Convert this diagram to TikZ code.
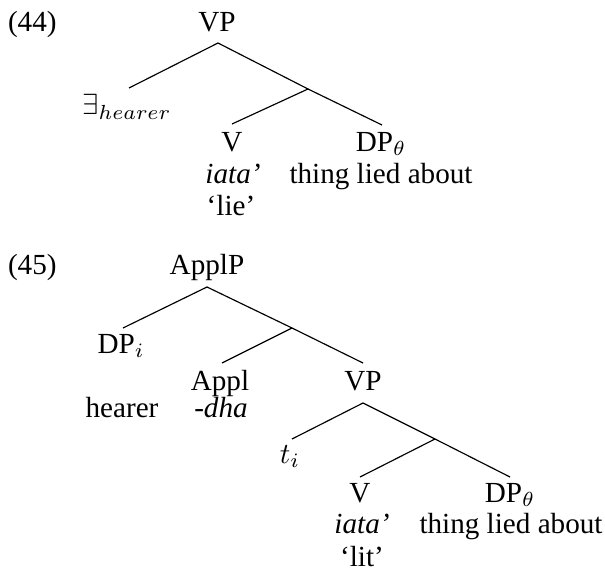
\documentclass[tikz,border=0pt]{standalone}
\usepackage{fontspec}
\setmainfont{Liberation Serif}
\begin{document}
\begin{tikzpicture}[x=0.343pt,y=-0.343pt,
  lbl/.style={anchor=base,inner sep=0pt,outer sep=0pt},
  num/.style={anchor=base west,inner sep=0pt,outer sep=0pt},
  branch/.style={line width=0.4pt,black}]
\useasboundingbox (0,0) rectangle (605,576);
% ---------- (44) ----------
\node[num] (n44) at (8,32) {(44)};
\node[lbl] (vpA) at (217,32) {VP};
\node[lbl] (exA) at (127,115) {$\exists_{hearer}$};
\node[lbl] (vA) at (232,151) {V};
\node[lbl] (dpA) at (381,151) {DP$_\theta$};
\node[lbl] (iataA) at (233,184) {\textit{iata'}};
\node[lbl] (thingA) at (381,184) {thing lied about};
\node[lbl] (lieA) at (231,215) {`lie'};
\coordinate (vpAtop) at (218,43);
\coordinate (exAend) at (129,88);
\coordinate (jA) at (308,89);
\coordinate (vAend) at (232,124);
\coordinate (dpAend) at (382,125);
\draw[branch] (vpAtop) -- (exAend);
\draw[branch] (vpAtop) -- (jA);
\draw[branch] (jA) -- (vAend);
\draw[branch] (jA) -- (dpAend);
% ---------- (45) ----------
\node[num] (n45) at (8,274) {(45)};
\node[lbl] (applp) at (207,274) {ApplP};
\node[lbl] (dpi) at (121,353) {DP$_i$};
\node[lbl] (appl) at (220,390) {Appl};
\node[lbl] (hearer) at (122,417) {hearer};
\node[lbl] (dha) at (221,417) {\textit{-dha}};
\node[lbl] (vpB) at (363,390) {VP};
\node[lbl] (ti) at (290,463) {$t_i$};
\node[lbl] (vB) at (360,502) {V};
\node[lbl] (dpB) at (510,502) {DP$_\theta$};
\node[lbl] (iataB) at (362,533) {\textit{iata'}};
\node[lbl] (thingB) at (511,533) {thing lied about};
\node[lbl] (litB) at (362,566) {`lit'};
\coordinate (applptop) at (207,287);
\coordinate (dpiend) at (123,328);
\coordinate (jB) at (292,328);
\coordinate (applend) at (222,363);
\coordinate (vpBend) at (363,363);
\coordinate (vpBtop) at (363,403);
\coordinate (tiend) at (292,439);
\coordinate (jC) at (435,439);
\coordinate (vBend) at (360,477);
\coordinate (dpBend) at (510,477);
\draw[branch] (applptop) -- (dpiend);
\draw[branch] (applptop) -- (jB);
\draw[branch] (jB) -- (applend);
\draw[branch] (jB) -- (vpBend);
\draw[branch] (vpBtop) -- (tiend);
\draw[branch] (vpBtop) -- (jC);
\draw[branch] (jC) -- (vBend);
\draw[branch] (jC) -- (dpBend);
\end{tikzpicture}
\end{document}
